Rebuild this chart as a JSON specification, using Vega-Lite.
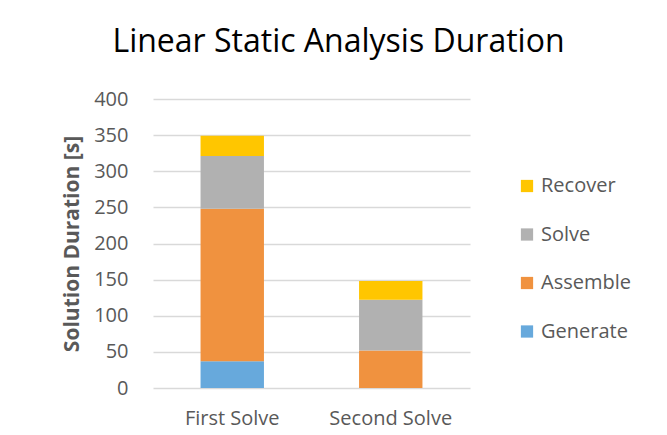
{
  "$schema": "https://vega.github.io/schema/vega-lite/v6.json",
  "autosize": "none",
  "width": 317,
  "height": 289,
  "padding": {"left": 153, "top": 99, "right": 197, "bottom": 47},
  "background": "white",
  "title": {
    "text": "Linear Static Analysis Duration",
    "font": "Open Sans",
    "fontSize": 32,
    "fontWeight": "normal",
    "color": "#000000",
    "anchor": "middle",
    "frame": "group",
    "dx": 27,
    "offset": 30
  },
  "data": {
    "values": [
      {"run": "First Solve", "phase": "Generate", "seconds": 37, "ord": 1},
      {"run": "First Solve", "phase": "Assemble", "seconds": 211, "ord": 2},
      {"run": "First Solve", "phase": "Solve", "seconds": 73, "ord": 3},
      {"run": "First Solve", "phase": "Recover", "seconds": 28, "ord": 4},
      {"run": "Second Solve", "phase": "Assemble", "seconds": 52, "ord": 2},
      {"run": "Second Solve", "phase": "Solve", "seconds": 70, "ord": 3},
      {"run": "Second Solve", "phase": "Recover", "seconds": 26, "ord": 4}
    ]
  },
  "mark": {"type": "bar"},
  "encoding": {
    "x": {
      "field": "run",
      "type": "nominal",
      "sort": ["First Solve", "Second Solve"],
      "scale": {"paddingInner": 0.6, "paddingOuter": 0.3},
      "axis": {
        "title": null,
        "labelAngle": 0,
        "domain": false,
        "ticks": false,
        "labelFont": "Open Sans",
        "labelFontSize": 20,
        "labelColor": "#595959",
        "labelPadding": 20
      }
    },
    "y": {
      "field": "seconds",
      "type": "quantitative",
      "stack": "zero",
      "scale": {"domain": [0, 400], "nice": false},
      "axis": {
        "title": "Solution Duration [s]",
        "titleFont": "Open Sans",
        "titleFontSize": 21,
        "titleFontWeight": "bold",
        "titleColor": "#595959",
        "titlePadding": 11,
        "values": [0, 50, 100, 150, 200, 250, 300, 350, 400],
        "domain": false,
        "ticks": false,
        "grid": true,
        "gridColor": "#d9d9d9",
        "gridWidth": 1.5,
        "labelFont": "Open Sans",
        "labelFontSize": 20,
        "labelColor": "#595959",
        "labelPadding": 25
      }
    },
    "color": {
      "field": "phase",
      "type": "nominal",
      "scale": {
        "domain": ["Recover", "Solve", "Assemble", "Generate"],
        "range": ["#ffc600", "#b1b1b1", "#f0923f", "#67a9dc"]
      },
      "legend": {
        "title": null,
        "orient": "none",
        "legendX": 364,
        "legendY": 77,
        "symbolType": "square",
        "symbolSize": 150,
        "symbolStrokeWidth": 0,
        "labelFont": "Open Sans",
        "labelFontSize": 20,
        "labelColor": "#595959",
        "labelOffset": 4,
        "rowPadding": 28.5
      }
    },
    "order": {"field": "ord", "type": "quantitative"}
  },
  "config": {"view": {"stroke": null}}
}
